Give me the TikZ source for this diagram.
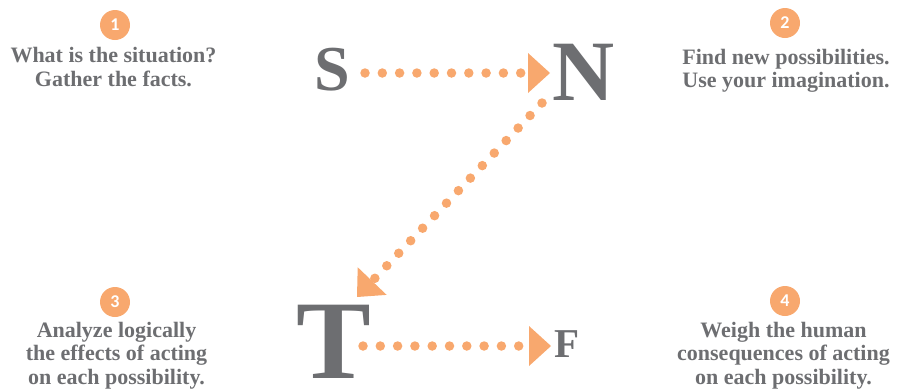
\documentclass[tikz,border=0pt]{standalone}
\usepackage{fontspec}
\setmainfont{Liberation Serif}
\newfontfamily\numfont{Carlito}
\usetikzlibrary{arrows.meta}
\definecolor{tgray}{HTML}{6D6E71}
\definecolor{torange}{HTML}{F8A86E}
\begin{document}
\begin{tikzpicture}[x=1pt,y=1pt,
  numc/.style={circle,fill=torange,minimum size=30pt,inner sep=0pt,text=white,font=\numfont\bfseries\fontsize{18}{18}\selectfont},
  desc/.style={align=center,text=tgray,inner sep=0pt,anchor=base,font=\bfseries\fontsize{22}{23.5}\selectfont},
  letter/.style={text=tgray,inner sep=0pt,anchor=base},
  flow/.style={draw=torange,line width=9.5pt,line cap=round,dash pattern=on 0pt off 17.3pt,
    -{Triangle[length=22pt,width=40pt,line width=0pt,sep=0pt]}}]
\useasboundingbox (0,0) rectangle (899,-389);
% number badges
\node[numc] (c1) at (115,-25) {1};
\node[numc] (c2) at (785,-23) {2};
\node[numc] (c3) at (115,-302) {3};
\node[numc] (c4) at (785,-301) {4};
% descriptions (base = last line)
\node[desc] (d1) at (113.5,-86) {What is the situation?\\Gather the facts.};
\node[desc] (d2) at (786,-87.5) {Find new possibilities.\\Use your imagination.};
\node[desc] (d3) at (116.5,-384) {Analyze logically\\the effects of acting\\on each possibility.};
\node[desc] (d4) at (783.5,-384) {Weigh the human\\consequences of acting\\on each possibility.};
% letters
\node[letter,font=\bfseries\fontsize{64}{64}\selectfont] (S) at (332,-90) {S};
\node[letter,font=\bfseries\fontsize{86}{86}\selectfont] (N) at (584,-100) {N};
\node[letter,font=\bfseries\fontsize{112}{112}\selectfont] (T) at (334,-378) {T};
\node[letter,font=\bfseries\fontsize{41}{41}\selectfont] (F) at (567,-357) {F};
% connectors
\draw[flow] ([xshift=33pt,yshift=17pt]S.base) -- ([xshift=-34pt,yshift=27pt]N.base);
\draw[flow] ([xshift=-42pt,yshift=-3pt]N.base) -- ([xshift=23pt,yshift=81pt]T.base);
\draw[flow] ([xshift=29pt,yshift=32pt]T.base) -- ([xshift=-16pt,yshift=11pt]F.base);
\end{tikzpicture}
\end{document}
